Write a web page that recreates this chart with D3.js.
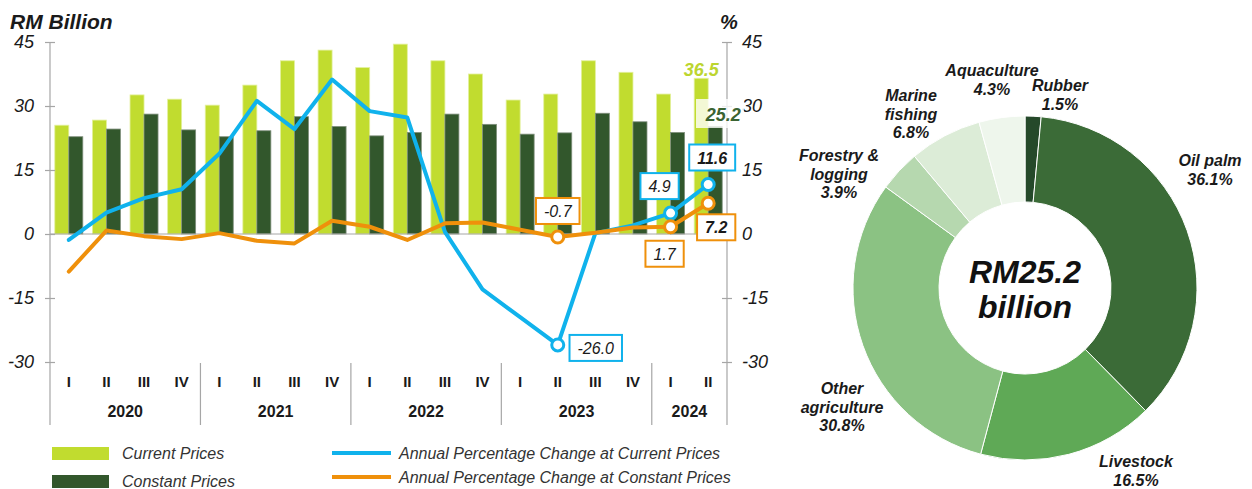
<!DOCTYPE html>
<html>
<head>
<meta charset="utf-8">
<script src="https://cdn.jsdelivr.net/npm/d3@7"></script>
<style>
  body { margin: 0; background: #fff; }
  svg { font-family: "Liberation Sans", Arial, sans-serif; display: block; }
</style>
</head>
<body>
<svg id="chart" width="1252" height="489"></svg>
<script>
// Agriculture value added, quarterly 2020 Q1 – 2024 Q2
const years = ["2020", "2021", "2022", "2023", "2024"];
const quartersPerYear = [4, 4, 4, 4, 2];
const quarters = ["I","II","III","IV","I","II","III","IV","I","II","III","IV","I","II","III","IV","I","II"];
const currentPrices  = [25.5, 26.7, 32.6, 31.6, 30.2, 34.9, 40.6, 43.1, 39.0, 44.5, 40.6, 37.5, 31.4, 32.8, 40.6, 37.9, 32.8, 36.5];
const constantPrices = [22.8, 24.6, 28.1, 24.4, 22.8, 24.2, 27.5, 25.2, 23.0, 23.8, 28.1, 25.7, 23.4, 23.7, 28.3, 26.3, 23.8, 25.2];
const pctCurrent  = [-1.4, 5.0, 8.4, 10.5, 18.8, 31.2, 24.6, 36.2, 28.8, 27.3, 0.5, -13.0, -19.5, -26.0, 0.2, 2.0, 4.9, 11.6];
const pctConstant = [-8.8, 0.8, -0.5, -1.2, 0.2, -1.6, -2.2, 3.1, 1.7, -1.4, 2.5, 2.7, 1.0, -0.7, 0.3, 1.5, 1.7, 7.2];
const yTicks = [45, 30, 15, 0, -15, -30];

// 2024 Q2 composition at constant prices
const shareLabels = ["Rubber", "Oil palm", "Livestock", "Other agriculture", "Forestry & logging", "Marine fishing", "Aquaculture"];
const shareValues = [1.5, 36.1, 16.5, 30.8, 3.9, 6.8, 4.3];
const totalLabel = ["RM25.2", "billion"];

// ---- styling ----
const C = {
  current: "#c1dc2f",
  constant: "#32572c",
  blue: "#10b2ec",
  orange: "#ef900b",
  axis: "#a6a6a6",
  text: "#1a1a1a"
};
const sliceColors = ["#25492a", "#3b6b37", "#5fa956", "#8bc283", "#b6d8af", "#dcecd7", "#eef6ec"];

const svg = d3.select("#chart");

// ---- scales ----
const x = d3.scaleBand().domain(d3.range(quarters.length)).range([50, 727]);
const bw = x.bandwidth();
const sub = d3.scaleBand().domain(["cur", "con"]).range([bw / 2 - 14, bw / 2 + 14]);
const y = d3.scaleLinear().domain([-30, 45]).range([362, 42]);
const cx = i => x(i) + bw / 2;

// ---- bars ----
const bars = svg.append("g");
bars.selectAll("rect.cur").data(currentPrices).join("rect")
  .attr("x", (d, i) => x(i) + sub("cur"))
  .attr("width", sub.bandwidth())
  .attr("y", d => y(d))
  .attr("height", d => y(0) - y(d))
  .attr("fill", C.current)
  .attr("stroke", "#e3f09c").attr("stroke-width", 0.8);
bars.selectAll("rect.con").data(constantPrices).join("rect")
  .attr("x", (d, i) => x(i) + sub("con"))
  .attr("width", sub.bandwidth())
  .attr("y", d => y(d))
  .attr("height", d => y(0) - y(d))
  .attr("fill", C.constant)
  .attr("stroke", "#7f8f7c").attr("stroke-width", 0.8);

// zero line
svg.append("line")
  .attr("x1", 50).attr("x2", 727).attr("y1", y(0)).attr("y2", y(0))
  .attr("stroke", C.axis).attr("stroke-width", 1);

// ---- axes ----
const axisBottomY = 425;
[50, 727].forEach(px => {
  svg.append("line").attr("x1", px).attr("x2", px).attr("y1", y(45)).attr("y2", axisBottomY)
    .attr("stroke", C.axis).attr("stroke-width", 1.2);
});

function styleAxis(g, textX, anchor) {
  g.attr("font-family", "Liberation Sans, Arial, sans-serif").attr("font-size", 18);
  g.select(".domain").remove();
  g.selectAll(".tick line").attr("x1", -5).attr("x2", 5).attr("stroke", C.axis).attr("stroke-width", 1.2);
  g.selectAll(".tick text").attr("x", textX).attr("text-anchor", anchor)
    .attr("font-style", "italic").attr("fill", C.text);
}
svg.append("g").attr("transform", "translate(50,0)")
  .call(d3.axisLeft(y).tickValues(yTicks).tickFormat(d => String(d)))
  .call(g => styleAxis(g, -16, "end"));
svg.append("g").attr("transform", "translate(727,0)")
  .call(d3.axisRight(y).tickValues(yTicks).tickFormat(d => String(d)))
  .call(g => styleAxis(g, 15, "start"));

svg.append("text").attr("x", 10).attr("y", 29).text("RM Billion")
  .attr("font-size", 21).attr("font-weight", "bold").attr("font-style", "italic").attr("fill", C.text);
svg.append("text").attr("x", 720).attr("y", 29).text("%")
  .attr("font-size", 20).attr("font-weight", "bold").attr("font-style", "italic").attr("fill", C.text);

// quarter and year labels
svg.append("g").selectAll("text").data(quarters).join("text")
  .attr("x", (d, i) => cx(i)).attr("y", 387)
  .attr("text-anchor", "middle").attr("font-size", 15).attr("font-weight", "bold").attr("fill", C.text)
  .text(d => d);

let start = 0;
const yearSpans = years.map((yr, k) => {
  const s = start; start += quartersPerYear[k];
  return { yr, s, e: start };
});
svg.append("g").selectAll("text").data(yearSpans).join("text")
  .attr("x", d => (x(d.s) + x(d.e - 1) + bw) / 2).attr("y", 417)
  .attr("text-anchor", "middle").attr("font-size", 16).attr("font-weight", "bold").attr("fill", C.text)
  .text(d => d.yr);
svg.append("g").selectAll("line").data(yearSpans.slice(1)).join("line")
  .attr("x1", d => x(d.s)).attr("x2", d => x(d.s))
  .attr("y1", 363).attr("y2", axisBottomY)
  .attr("stroke", C.axis).attr("stroke-width", 1.2);

// ---- lines ----
const line = d3.line().x((d, i) => cx(i)).y(d => y(d));
svg.append("path").datum(pctCurrent).attr("d", line)
  .attr("fill", "none").attr("stroke", C.blue).attr("stroke-width", 4)
  .attr("stroke-linejoin", "round").attr("stroke-linecap", "round");
svg.append("path").datum(pctConstant).attr("d", line)
  .attr("fill", "none").attr("stroke", C.orange).attr("stroke-width", 4)
  .attr("stroke-linejoin", "round").attr("stroke-linecap", "round");

// ---- highlighted points with callout boxes ----
const callouts = [
  { s: pctConstant, i: 13, color: C.orange, dx: 0,   dy: -26, bold: false },
  { s: pctCurrent,  i: 13, color: C.blue,   dx: 38,  dy: 3,   bold: false },
  { s: pctCurrent,  i: 16, color: C.blue,   dx: -11, dy: -27, bold: false },
  { s: pctConstant, i: 16, color: C.orange, dx: -6,  dy: 27,  bold: false },
  { s: pctCurrent,  i: 17, color: C.blue,   dx: 4,   dy: -27, bold: true },
  { s: pctConstant, i: 17, color: C.orange, dx: 8,   dy: 24,  bold: true }
];
const calloutG = svg.append("g");
callouts.forEach(c => {
  const v = c.s[c.i];
  const px = cx(c.i), py = y(v);
  calloutG.append("circle").attr("cx", px).attr("cy", py).attr("r", 6)
    .attr("fill", "#fff").attr("stroke", c.color).attr("stroke-width", 3);
  const g = calloutG.append("g").attr("transform", `translate(${px + c.dx},${py + c.dy})`);
  const rect = g.append("rect");
  const t = g.append("text").text(v.toFixed(1))
    .attr("text-anchor", "middle").attr("y", 6)
    .attr("font-size", 16).attr("font-style", "italic")
    .attr("font-weight", c.bold ? "bold" : "normal").attr("fill", C.text);
  const w = t.node().getComputedTextLength() + 16;
  rect.attr("x", -w / 2).attr("y", -13).attr("width", w).attr("height", 26)
    .attr("fill", "#fff").attr("stroke", c.color).attr("stroke-width", 2);
});

// latest-quarter bar values
const last = quarters.length - 1;
svg.append("text").attr("x", x(last) + sub("cur") + sub.bandwidth() / 2).attr("y", y(currentPrices[last]) - 2)
  .attr("text-anchor", "middle").attr("font-size", 18).attr("font-weight", "bold").attr("font-style", "italic")
  .attr("fill", "#bcd52f").text(currentPrices[last].toFixed(1));
svg.append("rect").attr("x", 696).attr("y", 99).attr("width", 48).attr("height", 29)
  .attr("fill", "#fff").attr("fill-opacity", 0.8);
svg.append("text").attr("x", x(last) + sub("con") + sub.bandwidth() / 2 + 8).attr("y", y(constantPrices[last]) - 5)
  .attr("text-anchor", "middle").attr("font-size", 18).attr("font-weight", "bold").attr("font-style", "italic")
  .attr("fill", "#3b6432").text(constantPrices[last].toFixed(1));

// ---- legend ----
const legend = svg.append("g").attr("font-size", 16).attr("font-style", "italic").attr("fill", "#333");
[["Current Prices", C.current, 447], ["Constant Prices", C.constant, 475]].forEach(([label, col, ly]) => {
  legend.append("rect").attr("x", 52).attr("y", ly).attr("width", 57).attr("height", 13).attr("fill", col);
  legend.append("text").attr("x", 122).attr("y", ly + 12).text(label);
});
[["Annual Percentage Change at Current Prices", C.blue, 453], ["Annual Percentage Change at Constant Prices", C.orange, 477]].forEach(([label, col, ly]) => {
  legend.append("line").attr("x1", 332).attr("x2", 391).attr("y1", ly).attr("y2", ly)
    .attr("stroke", col).attr("stroke-width", 4);
  legend.append("text").attr("x", 399).attr("y", ly + 6).text(label);
});

// ---- donut ----
const center = [1025, 288];
const pie = d3.pie().sort(null).startAngle(0).endAngle(2 * Math.PI);
const arc = d3.arc().innerRadius(86).outerRadius(172);
const donut = svg.append("g").attr("transform", `translate(${center[0]},${center[1]})`);
donut.selectAll("path").data(pie(shareValues)).join("path")
  .attr("d", arc)
  .attr("fill", (d, i) => sliceColors[i])
  .attr("stroke", "#fff").attr("stroke-width", 1);

donut.append("text").attr("text-anchor", "middle").attr("y", -5)
  .attr("font-size", 32).attr("font-weight", "bold").attr("font-style", "italic").attr("fill", "#111")
  .text(totalLabel[0]);
donut.append("text").attr("text-anchor", "middle").attr("y", 30)
  .attr("font-size", 32).attr("font-weight", "bold").attr("font-style", "italic").attr("fill", "#111")
  .text(totalLabel[1]);

// label lines and anchor points (relative to donut centre)
const sliceLabelLines = [
  ["Rubber"], ["Oil palm"], ["Livestock"], ["Other", "agriculture"],
  ["Forestry &", "logging"], ["Marine", "fishing"], ["Aquaculture"]
];
const sliceLabelPos = [[35, -197], [185, -122], [111, 179], [-183, 106], [-186, -127], [-114, -187], [-33, -212]];
sliceLabelLines.forEach((lines, i) => {
  const t = donut.append("text").attr("text-anchor", "middle")
    .attr("font-size", 16).attr("font-weight", "bold").attr("font-style", "italic").attr("fill", C.text)
    .attr("transform", `translate(${sliceLabelPos[i][0]},${sliceLabelPos[i][1]})`);
  lines.concat([shareValues[i].toFixed(1) + "%"]).forEach((ln, k) => {
    t.append("tspan").attr("x", 0).attr("y", k * 18.5).text(ln);
  });
});
</script>
</body>
</html>
